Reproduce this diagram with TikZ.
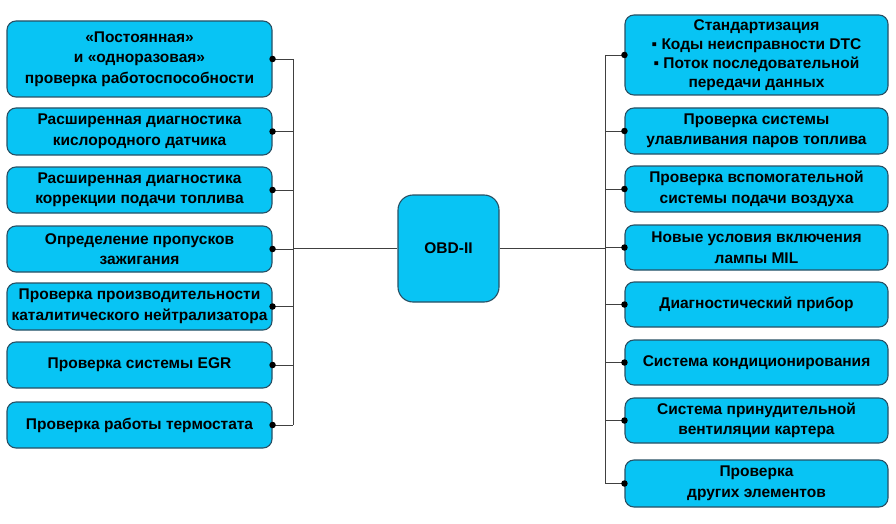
\documentclass[tikz,border=0pt]{standalone}
\usepackage{fontspec}
\setmainfont{Liberation Sans}
\definecolor{boxfill}{RGB}{8,196,244}
\definecolor{boxline}{RGB}{40,80,100}
\tikzset{
  item/.style={draw=boxline, line width=1.1pt, fill=boxfill, rounded corners=9pt,
    align=center, inner sep=2pt, font=\fontsize{15.5}{20.5}\selectfont\bfseries},
  link/.style={draw=black!75, line width=0.9pt},
  dot/.style={circle, fill=black, inner sep=0pt, minimum size=6.5pt}
}
\begin{document}
\begin{tikzpicture}[x=1pt, y=-1pt]
\useasboundingbox (0,0) rectangle (896,524);

\node[item, minimum width=265pt, minimum height=76pt] (l1) at (139.5,59) {«Постоянная»\\и «одноразовая»\\проверка работоспособности};
\node[item, minimum width=265pt, minimum height=47pt] (l2) at (139.5,131.5) {Расширенная диагностика\\кислородного датчика};
\node[item, minimum width=265pt, minimum height=46pt] (l3) at (139.5,190) {Расширенная диагностика\\коррекции подачи топлива};
\node[item, minimum width=265pt, minimum height=46pt] (l4) at (139.5,249) {Определение пропусков\\зажигания};
\node[item, minimum width=265pt, minimum height=47pt] (l5) at (139.5,306.5) {Проверка производительности\\каталитического нейтрализатора};
\node[item, minimum width=265pt, minimum height=46pt] (l6) at (139.5,365) {Проверка системы EGR};
\node[item, minimum width=265pt, minimum height=46pt] (l7) at (139.5,425) {Проверка работы термостата};

\node[item, rounded corners=15pt, minimum width=101pt, minimum height=107pt] (obd) at (448.5,248.5) {OBD-II};

\node[item, minimum width=263pt, minimum height=80pt, font=\fontsize{15.5}{19}\selectfont\bfseries] (r1) at (756.5,55) {Стандартизация\\▪ Коды неисправности DTC\\▪ Поток последовательной\\передачи данных};
\node[item, minimum width=263pt, minimum height=46pt] (r2) at (756.5,131) {Проверка системы\\улавливания паров топлива};
\node[item, minimum width=263pt, minimum height=46pt] (r3) at (756.5,189) {Проверка вспомогательной\\системы подачи воздуха};
\node[item, minimum width=263pt, minimum height=45pt] (r4) at (756.5,247.5) {Новые условия включения\\лампы MIL};
\node[item, minimum width=263pt, minimum height=45pt] (r5) at (756.5,304.5) {Диагностический прибор};
\node[item, minimum width=263pt, minimum height=45pt] (r6) at (756.5,362.5) {Система кондиционирования};
\node[item, minimum width=263pt, minimum height=45pt] (r7) at (756.5,420.5) {Система принудительной\\вентиляции картера};
\node[item, minimum width=263pt, minimum height=47pt] (r8) at (756.5,483.5) {Проверка\\других элементов};

\coordinate (lbus) at (293,248.5);
\coordinate (rbus) at (605,248.5);

\draw[link] (l1.east -| lbus) -- (l7.east -| lbus);
\draw[link] (r1.east -| rbus) -- (r8.east -| rbus);
\draw[link] (lbus) -- (obd.west);
\draw[link] (obd.east) -- (rbus);
\foreach \n in {l1,l2,l3,l4,l5,l6,l7}{
  \draw[link] (\n.east) -- (\n.east -| lbus);
  \node[dot] at (\n.east) {};
}
\foreach \n in {r1,r2,r3,r4,r5,r6,r7,r8}{
  \draw[link] (\n.west) -- (\n.west -| rbus);
  \node[dot] at (\n.west) {};
}
\end{tikzpicture}
\end{document}
